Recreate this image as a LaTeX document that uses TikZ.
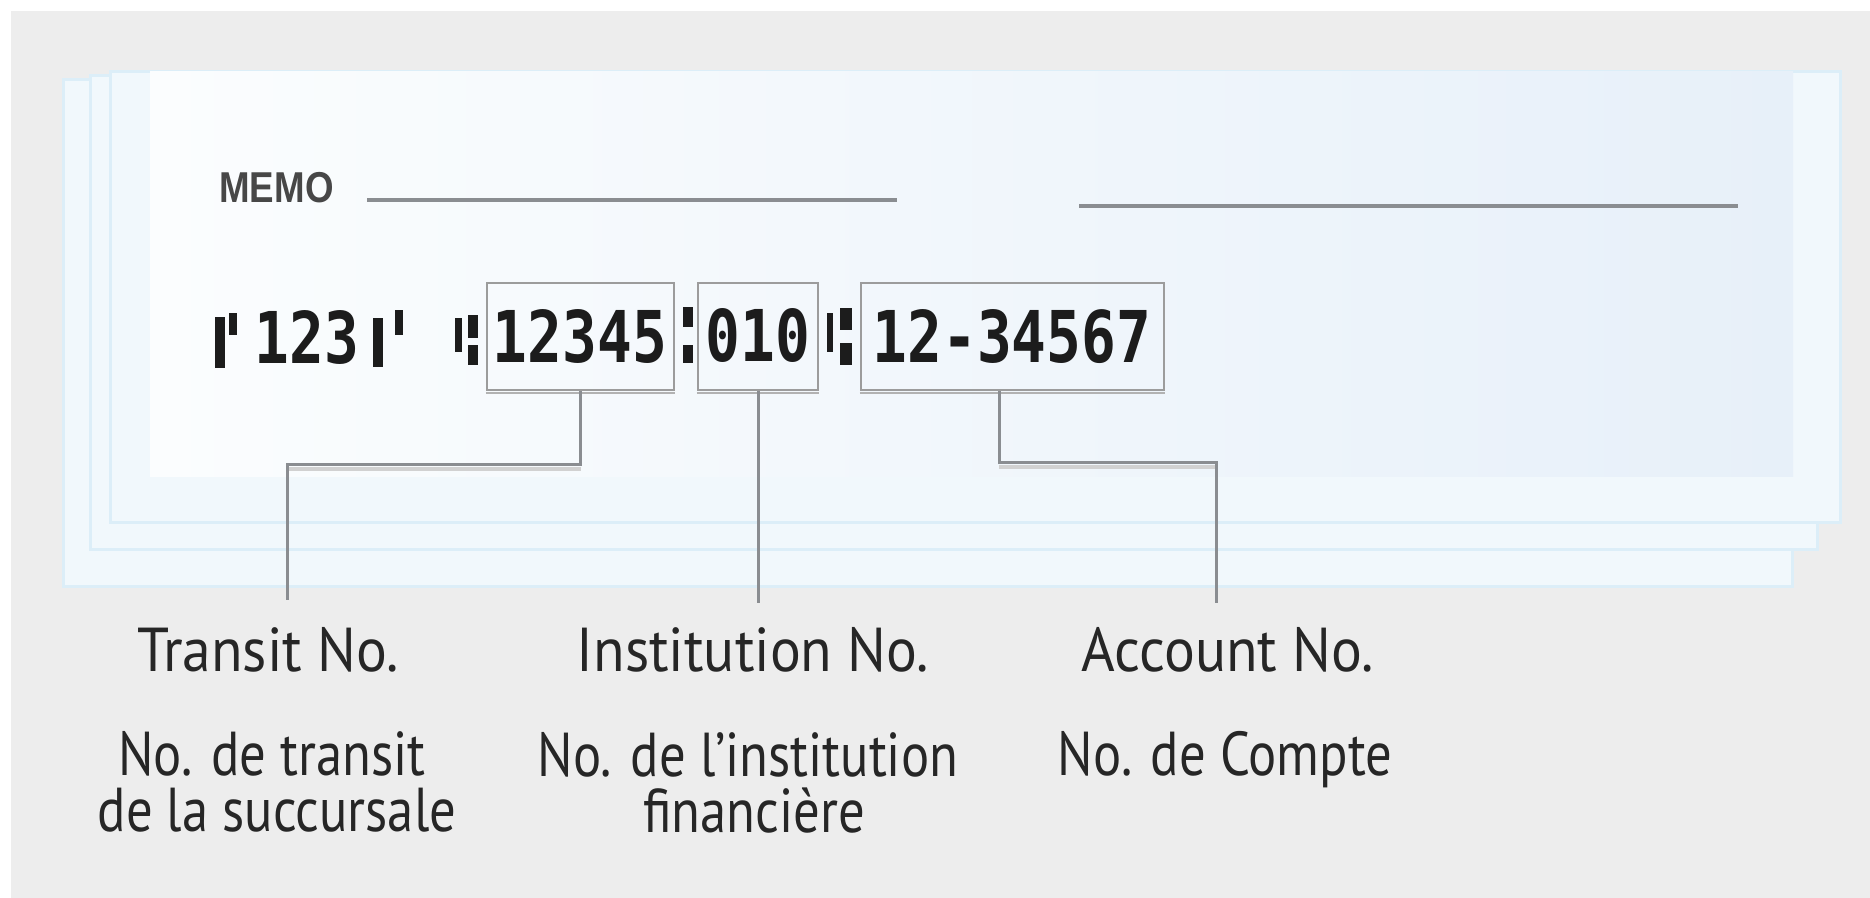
\documentclass[tikz,border=0pt]{standalone}
\usepackage{fontspec}
\newfontfamily\lblfont[FakeStretch=0.85]{PT Sans}
\newfontfamily\enlblfont[FakeStretch=0.93]{PT Sans}
\newfontfamily\memofont[FakeStretch=0.85]{Liberation Sans Bold}
\newfontfamily\micrfont[FakeStretch=0.81]{DejaVu Sans Mono Bold}
\definecolor{bggray}{HTML}{EDEDED}
\definecolor{sheetfill}{HTML}{F1F8FC}
\definecolor{sheetedge}{HTML}{DCEEF8}
\definecolor{cardleft}{HTML}{FBFDFE}
\definecolor{cardright}{HTML}{E7F0F9}
\definecolor{linegray}{HTML}{8A8D91}
\definecolor{boxgray}{HTML}{9C9C9C}
\definecolor{micr}{HTML}{1C1C1C}
\definecolor{txt}{HTML}{262626}
\tikzset{
  sheet/.style={fill=sheetfill,draw=sheetedge,line width=1.5pt},
  memoline/.style={draw=linegray,line width=1.6pt},
  micrbox/.style={draw=boxgray,line width=1.2pt,inner sep=0pt,minimum width=#1},
  micrtext/.style={text=micr,inner sep=0pt,font=\micrfont\fontsize{35.7}{36}\selectfont},
  micrmark/.style={fill=micr},
  conn/.style={draw=linegray,line width=1.5pt},
  connshadow/.style={draw=black!18,line width=2pt},
  lbl/.style={text=txt,inner sep=0pt,anchor=base,font=\lblfont\fontsize{31}{28.5}\selectfont},
  enlbl/.style={lbl,font=\enlblfont\fontsize{31}{28.5}\selectfont},
}
\begin{document}
\begin{tikzpicture}[x=0.5pt,y=-0.5pt]
\useasboundingbox (0,0) rectangle (1870,898);
% background
\fill[white] (0,0) rectangle (1870,898);
\fill[bggray] (11,11) rectangle (1870,898);
% stacked cheque sheets
\path[sheet] (63,80) rectangle (1792,587);
\path[sheet] (90,76) rectangle (1817,550);
\path[sheet] (110,72) rectangle (1840,523);
\shade[left color=cardleft,right color=cardright] (150,72) rectangle (1793,477);
% memo
\node[text=txt!85,inner sep=0pt,anchor=base west,font=\memofont\fontsize{21.6}{22}\selectfont] (memo) at (219,203) {MEMO};
\draw[memoline] (367,200) -- (897,200);
\draw[memoline] (1079,206) -- (1738,206);
% MICR boxes
\node[micrbox=93.5pt,minimum height=53.5pt] (b1) at (580.5,336.5) {};
\node[micrbox=60pt,minimum height=53.5pt] (b2) at (758,336.5) {};
\node[micrbox=151.5pt,minimum height=53.5pt] (b3) at (1012.5,336.5) {};
\draw[draw=black!30,line width=1pt] ([yshift=-0.8pt]b1.south west) -- ([yshift=-0.8pt]b1.south east);
\draw[draw=black!30,line width=1pt] ([yshift=-0.8pt]b2.south west) -- ([yshift=-0.8pt]b2.south east);
\draw[draw=black!30,line width=1pt] ([yshift=-0.8pt]b3.south west) -- ([yshift=-0.8pt]b3.south east);
% MICR symbols
\fill[micrmark] (215,317) rectangle (225,368);
\fill[micrmark] (229,313) rectangle (237,335);
\fill[micrmark] (373,318) rectangle (383,367);
\fill[micrmark] (395,310) rectangle (403,335);
\fill[micrmark] (455,318) rectangle (462,352);
\fill[micrmark] (468,315) rectangle (478,338);
\fill[micrmark] (468,345) rectangle (478,365);
\fill[micrmark] (683,307) rectangle (693,327);
\fill[micrmark] (683,345) rectangle (693,363);
\fill[micrmark] (827,313) rectangle (833,352);
\fill[micrmark] (840,308) rectangle (852,330);
\fill[micrmark] (840,343) rectangle (852,365);
% MICR digits
\node[micrtext] (m0) at (307,338) {123};
\node[micrtext] (m1) at (580,337) {12345};
\node[micrtext] (m2) at (758,336) {010};
\node[micrtext] (m3) at (1012,337) {12-34567};
% labels
\node[enlbl] (t1) at (268,671) {Transit No.};
\node[enlbl] (t2) at (753,671) {Institution No.};
\node[enlbl] (t3) at (1228,671) {Account No.};
\node[lbl] (f1a) at (272,775) {No. de transit};
\node[lbl] (f1b) at (277,831) {de la succursale};
\node[lbl] (f2a) at (748,776) {No. de l’institution};
\node[lbl] (f2b) at (754,832) {financière};
\node[lbl] (f3) at (1225,775) {No. de Compte};
% connectors
\coordinate (k1) at (287,465);
\coordinate (e1) at (287,600);
\coordinate (e2) at (758,603);
\coordinate (k3) at (1216,463);
\coordinate (e3) at (1216,603);
\draw[connshadow] ([yshift=-2pt]k1) -- ++(293.5,0);
\draw[connshadow] ([yshift=-2pt]k3) -- ++(-217,0);
\draw[conn] (b1.south) |- (k1) -- (e1);
\draw[conn] (b2.south) -- (e2);
\draw[conn] ([xshift=-6.5pt]b3.south) |- (k3) -- (e3);
\end{tikzpicture}
\end{document}
